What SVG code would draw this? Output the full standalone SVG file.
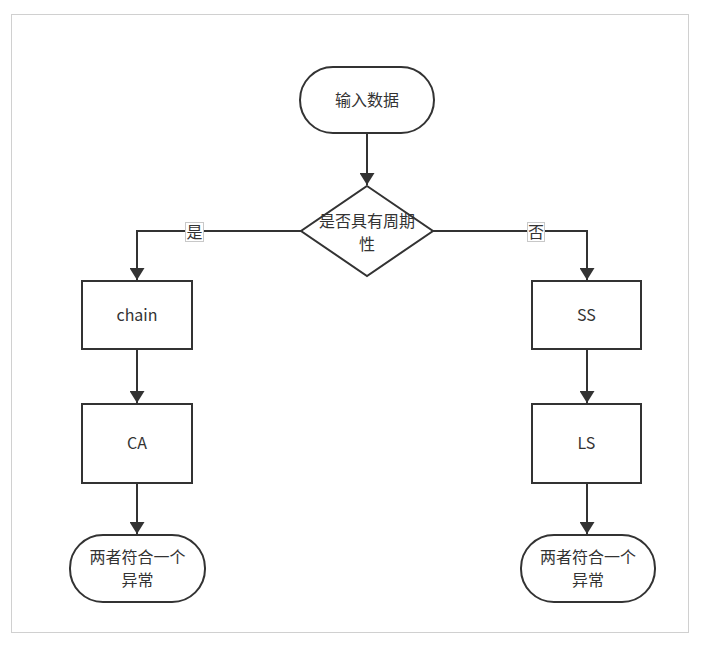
<svg xmlns="http://www.w3.org/2000/svg" width="703" height="647" viewBox="0 0 703 647">
<defs>
<style>
.n{fill:#fff;stroke:#333;stroke-width:2}
.t{font-family:"Noto Sans CJK SC","Microsoft YaHei",sans-serif;font-size:16px;fill:#333;text-anchor:middle}
.e{fill:none;stroke:#333;stroke-width:2}
.lb{fill:#fff;stroke:#c8c8c8;stroke-width:1}
</style>
<marker id="ah" markerWidth="12" markerHeight="15" refX="12" refY="7.5" orient="auto" markerUnits="userSpaceOnUse">
<path d="M0,0 L12,7.5 L0,15 Z" fill="#333"/>
</marker>
</defs>
<rect x="0" y="0" width="703" height="647" fill="#fff"/>
<rect x="11.5" y="14.5" width="677" height="618" fill="#fff" stroke="#d0d0d0" stroke-width="1"/>
<g id="edges">
<path class="e" d="M367,134 V185" marker-end="url(#ah)"/>
<path class="e" d="M301,231 H137 V280" marker-end="url(#ah)"/>
<path class="e" d="M433,231 H587 V280" marker-end="url(#ah)"/>
<path class="e" d="M137,349 V403" marker-end="url(#ah)"/>
<path class="e" d="M137,483 V534" marker-end="url(#ah)"/>
<path class="e" d="M587,349 V403" marker-end="url(#ah)"/>
<path class="e" d="M587,483 V534" marker-end="url(#ah)"/>
<rect class="lb" x="185.5" y="222.5" width="18" height="19"/>
<text class="t" x="194.5" y="238">是</text>
<rect class="lb" x="527.5" y="222.5" width="17" height="19"/>
<text class="t" x="536" y="238">否</text>
</g>
<g id="start">
<rect class="n" x="300" y="67" width="134" height="66" rx="33"/>
<text class="t" x="367" y="106">输入数据</text>
</g>
<g id="decision">
<polygon class="n" points="367,186 433,231 367,276 301,231"/>
<text class="t" x="367" y="227">是否具有周期</text>
<text class="t" x="367" y="250">性</text>
</g>
<g id="chain">
<rect class="n" x="82" y="281" width="110" height="68"/>
<text class="t" x="137" y="321">chain</text>
</g>
<g id="ca">
<rect class="n" x="82" y="404" width="110" height="79"/>
<text class="t" x="137" y="449">CA</text>
</g>
<g id="ss">
<rect class="n" x="532" y="281" width="109" height="68"/>
<text class="t" x="586.5" y="321">SS</text>
</g>
<g id="ls">
<rect class="n" x="532" y="404" width="109" height="79"/>
<text class="t" x="586.5" y="449">LS</text>
</g>
<g id="endL">
<rect class="n" x="70" y="535" width="135" height="67" rx="33"/>
<text class="t" x="137.5" y="563">两者符合一个</text>
<text class="t" x="137.5" y="586">异常</text>
</g>
<g id="endR">
<rect class="n" x="521" y="535" width="134" height="67" rx="33"/>
<text class="t" x="588" y="563">两者符合一个</text>
<text class="t" x="588" y="586">异常</text>
</g>
</svg>
